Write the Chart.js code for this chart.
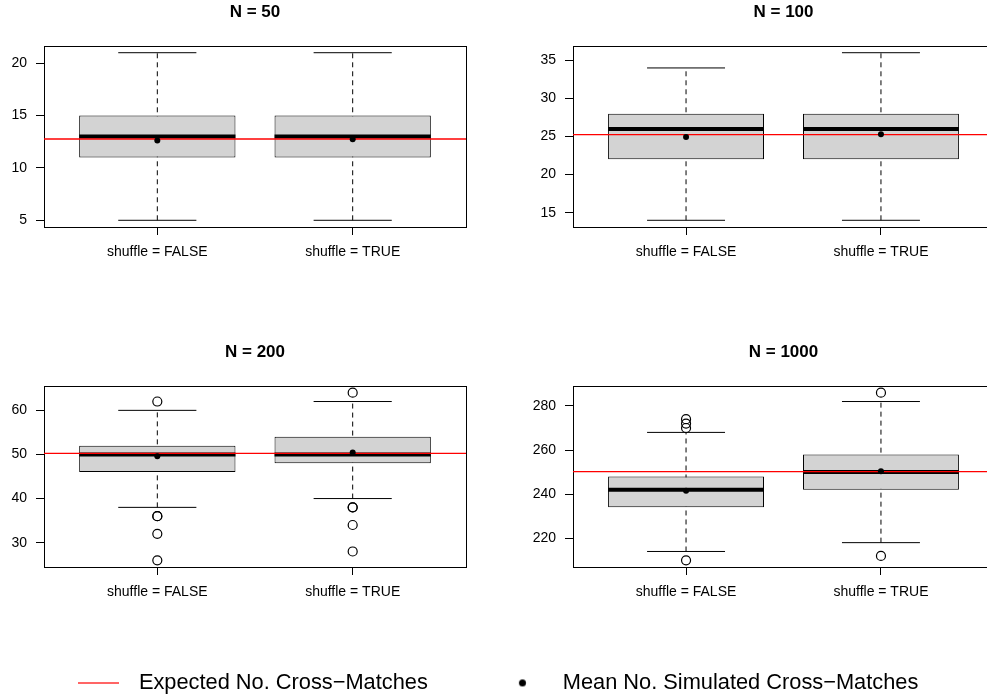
<!DOCTYPE html>
<html>
<head>
<meta charset="utf-8">
<script src="https://cdn.jsdelivr.net/npm/chart.js"></script>
<style>
  html, body { margin: 0; padding: 0; background: #fff; overflow: hidden; width: 987px; height: 698px; }
  canvas { position: absolute; }
</style>
</head>
<body>
<canvas id="p0" width="493" height="267" style="left:0;top:0"></canvas>
<canvas id="p1" width="527" height="267" style="left:493px;top:0"></canvas>
<canvas id="p2" width="493" height="267" style="left:0;top:340px"></canvas>
<canvas id="p3" width="527" height="267" style="left:493px;top:340px"></canvas>
<canvas id="leg" width="1400" height="260" style="left:0;top:598px"></canvas>
<script>
// ─── Data ──────────────────────────────────────────────────────────────────────
const CATEGORIES   = ["shuffle = FALSE", "shuffle = TRUE"];
const CATEGORY_X   = [1, 2];
const PANEL_TITLES = ["N = 50", "N = 100", "N = 200", "N = 1000"];

// one row per panel, [FALSE, TRUE] inside
const WHISKER_LOW  = [[5, 5],   [14, 14], [38, 40], [214, 218]];
const Q1           = [[11, 11], [22, 22], [46, 48], [234, 242]];
const MEDIAN       = [[13, 13], [26, 26], [50, 50], [242, 250]];
const Q3           = [[15, 15], [28, 28], [52, 54], [248, 258]];
const WHISKER_HIGH = [[21, 21], [34, 36], [60, 62], [268, 282]];
const OUTLIERS = [
  [[], []],
  [[], []],
  [[62, 36, 36, 32, 26], [64, 38, 38, 34, 28]],
  [[274, 272, 270, 210], [286, 212]]
];
const MEANS    = [[12.63, 12.73], [24.95, 25.3], [49.6, 50.45], [241.5, 250.4]];
const EXPECTED = [12.76, 25.25, 50.25, 250.25];
const Y_TICKS  = [[5, 10, 15, 20], [15, 20, 25, 30, 35], [30, 40, 50, 60], [220, 240, 260, 280]];
const LEGEND_LABELS = ["Expected No. Cross\u2212Matches", "Mean No. Simulated Cross\u2212Matches"];

// ─── Layout / style ──────────────────────────────────────────────────────────
const FONT = "'Liberation Sans', Arial, Helvetica, sans-serif";
Chart.defaults.font.family = FONT;
Chart.defaults.color = "#000";
const XLIM = [0.42, 2.58];
const BOX_HALF = 0.4, CAP_HALF = 0.2;
const LEFT_W  = [44, 80, 44, 80];
const RIGHT_W = [27, 26, 27, 26];

function yRange(p) {
  const vals = [...WHISKER_LOW[p], ...WHISKER_HIGH[p], ...OUTLIERS[p].flat()];
  const lo = Math.min(...vals), hi = Math.max(...vals);
  const pad = (hi - lo) * 0.04;
  return [lo - pad, hi + pad];
}

function halfPx(chart, du) {
  const x = chart.scales.x;
  return Math.abs(x.getPixelForValue(1 + du) - x.getPixelForValue(1));
}

function makePanel(p) {
  const [yMin, yMax] = yRange(p);
  const datasets = [];

  // dashed whiskers (under the box)
  CATEGORY_X.forEach((x, i) => {
    datasets.push({
      type: "line",
      data: [{x, y: WHISKER_LOW[p][i]}, {x, y: WHISKER_HIGH[p][i]}],
      borderColor: "#000", borderWidth: 1, borderDash: [5, 4],
      pointRadius: 0, order: 7
    });
  });

  // boxes
  datasets.push({
    type: "bar",
    data: CATEGORY_X.map((x, i) => ({x, y: [Q1[p][i], Q3[p][i]]})),
    backgroundColor: "#d3d3d3", borderColor: "#000", borderWidth: 1,
    borderSkipped: false, categoryPercentage: 0.8, barPercentage: 1, order: 6
  });

  // whisker caps
  datasets.push({
    type: "scatter",
    data: CATEGORY_X.flatMap((x, i) => [{x, y: WHISKER_LOW[p][i]}, {x, y: WHISKER_HIGH[p][i]}]),
    pointStyle: "line", radius: ctx => halfPx(ctx.chart, CAP_HALF),
    borderColor: "#000", borderWidth: 1, order: 5
  });

  // medians
  datasets.push({
    type: "scatter",
    data: CATEGORY_X.map((x, i) => ({x, y: MEDIAN[p][i]})),
    pointStyle: "line", radius: ctx => halfPx(ctx.chart, BOX_HALF),
    borderColor: "#000", borderWidth: 4, order: 4
  });

  // expected line
  datasets.push({
    type: "line",
    data: [{x: XLIM[0], y: EXPECTED[p]}, {x: XLIM[1], y: EXPECTED[p]}],
    borderColor: "#ff0000", borderWidth: 1.3, pointRadius: 0, order: 3
  });

  // means
  datasets.push({
    type: "scatter",
    data: CATEGORY_X.map((x, i) => ({x, y: MEANS[p][i]})),
    pointStyle: "circle", radius: 3, backgroundColor: "#000", borderWidth: 0, order: 2
  });

  // outliers
  datasets.push({
    type: "scatter",
    data: CATEGORY_X.flatMap((x, i) => OUTLIERS[p][i].map(y => ({x, y}))),
    pointStyle: "circle", radius: 4.5, backgroundColor: "rgba(0,0,0,0)",
    borderColor: "#000", borderWidth: 1.2, order: 1
  });

  const axisGrid = { display: true, offset: false, drawOnChartArea: false, drawTicks: true, tickLength: 8, color: "#000", lineWidth: 1 };
  const axisBorder = { display: true, color: "#000", width: 1 };

  return new Chart(document.getElementById("p" + p), {
    type: "scatter",
    data: { datasets },
    options: {
      responsive: false,
      animation: false,
      events: [],
      layout: { padding: 0 },
      plugins: {
        legend: { display: false },
        tooltip: { enabled: false },
        title: {
          display: true, text: PANEL_TITLES[p], fullSize: false,
          font: { size: 17, weight: "bold", lineHeight: 1 },
          color: "#000", padding: { top: 3.5, bottom: 0 }
        }
      },
      scales: {
        x: {
          type: "linear", position: "bottom", min: XLIM[0], max: XLIM[1], offset: false,
          afterBuildTicks: s => { s.ticks = CATEGORY_X.map(v => ({value: v})); },
          afterFit: s => { s.height = 40; },
          grid: axisGrid, border: axisBorder,
          ticks: {
            callback: v => CATEGORIES[CATEGORY_X.indexOf(v)],
            font: { size: 14 }, color: "#000", padding: 9, maxRotation: 0, autoSkip: false
          }
        },
        y: {
          type: "linear", position: "left", min: yMin, max: yMax,
          afterBuildTicks: s => { s.ticks = Y_TICKS[p].map(v => ({value: v})); },
          afterFit: s => { s.width = LEFT_W[p]; },
          grid: axisGrid, border: axisBorder,
          ticks: { font: { size: 14 }, color: "#000", padding: 9 }
        },
        x2: {
          type: "linear", position: "top", min: XLIM[0], max: XLIM[1], offset: false,
          grid: { display: false }, ticks: { display: false }, border: axisBorder,
          afterFit: s => { s.height = 25.5; }
        },
        y2: {
          type: "linear", position: "right", min: yMin, max: yMax,
          grid: { display: false }, ticks: { display: false }, border: axisBorder,
          afterFit: s => { s.width = RIGHT_W[p]; }
        }
      }
    }
  });
}

[0, 1, 2, 3].forEach(makePanel);

// ─── Legend ──────────────────────────────────────────────────────────────────
function legendSymbol(kind) {
  const c = document.createElement("canvas");
  c.width = 50; c.height = kind === "line" ? 2 : 9;
  const g = c.getContext("2d");
  if (kind === "line") {
    g.fillStyle = "#ff0000";
    g.fillRect(0, 0.4, 41, 1.2);
  } else {
    g.fillStyle = "#000";
    g.beginPath(); g.arc(20.6, 4.5, 3.5, 0, Math.PI * 2); g.fill();
  }
  return c;
}
const legendSymbols = [legendSymbol("line"), legendSymbol("dot")];

new Chart(document.getElementById("leg"), {
  type: "scatter",
  data: { datasets: LEGEND_LABELS.map(label => ({ label, data: [] })) },
  options: {
    responsive: false,
    animation: false,
    events: [],
    layout: { padding: { left: 4 } },
    scales: { x: { display: false }, y: { display: false } },
    plugins: {
      tooltip: { enabled: false },
      legend: {
        display: true, position: "top", align: "start", maxHeight: 200,
        labels: {
          usePointStyle: true, pointStyleWidth: 50, padding: 74,
          font: { size: 21.8 }, color: "#000",
          generateLabels: () => LEGEND_LABELS.map((text, i) => ({
            text, pointStyle: legendSymbols[i], fillStyle: "#000",
            strokeStyle: "#000", lineWidth: 0, hidden: false, datasetIndex: i
          }))
        }
      }
    }
  }
});
</script>
</body>
</html>
